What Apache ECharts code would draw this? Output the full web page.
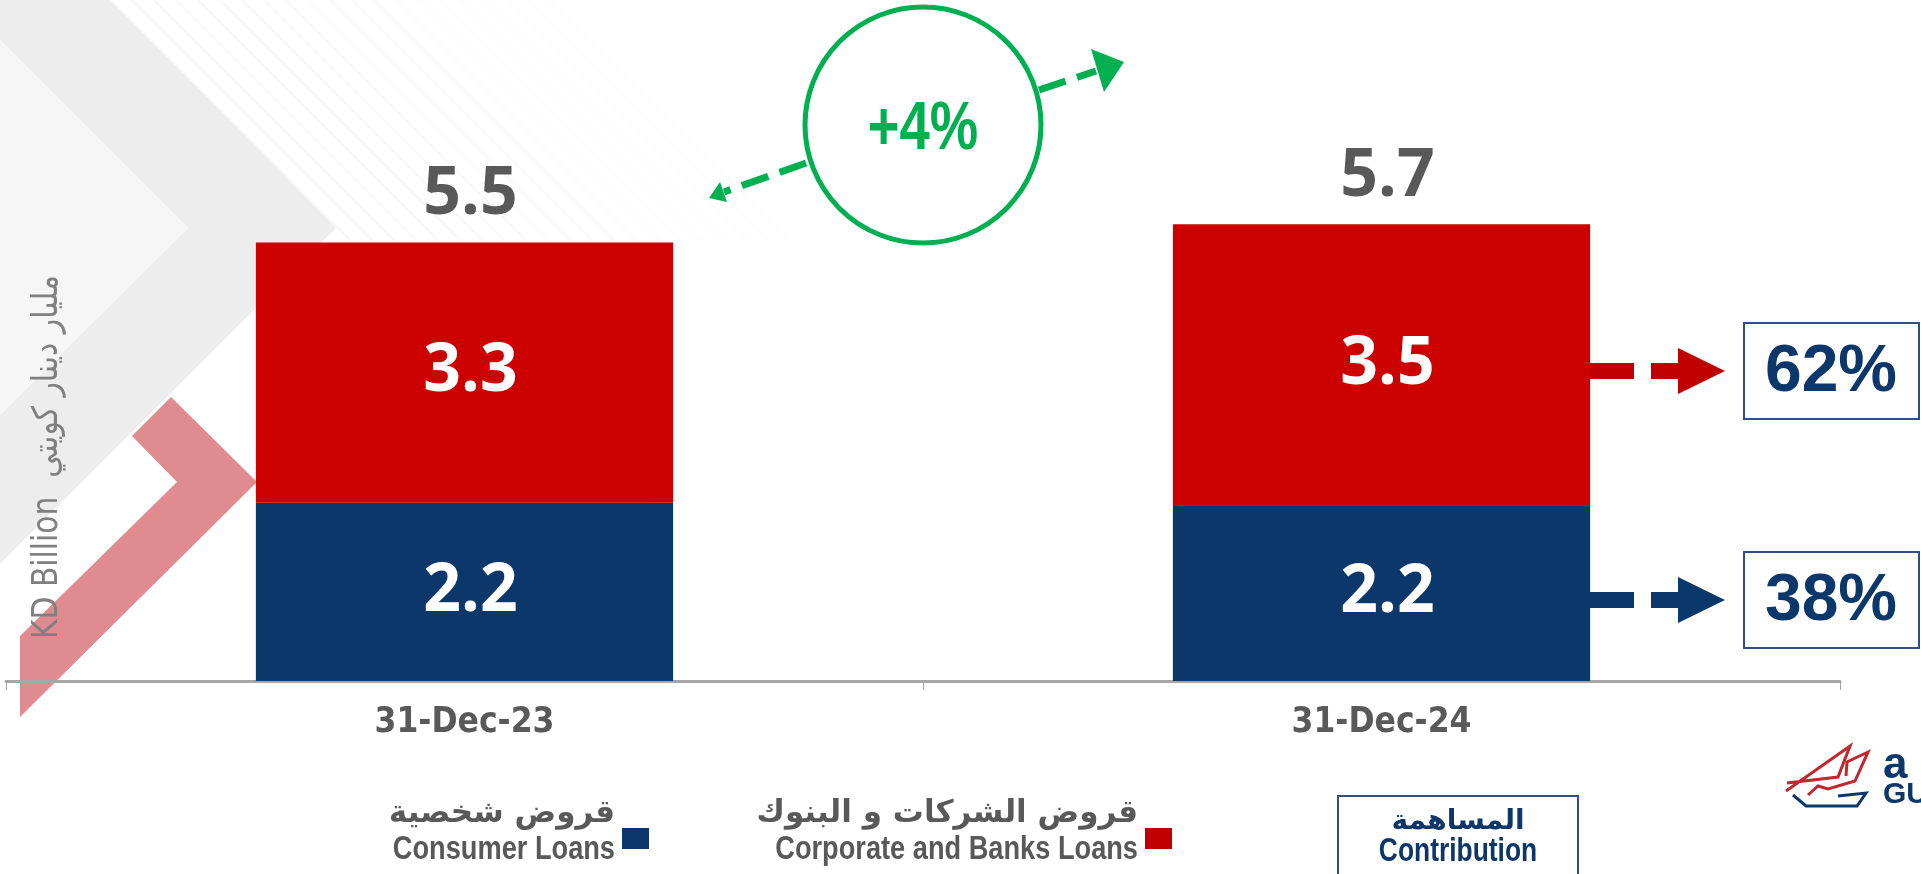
<!DOCTYPE html>
<html>
<head>
<meta charset="utf-8">
<title>Loans</title>
<script src="https://cdn.jsdelivr.net/npm/echarts@6/dist/echarts.min.js"></script>
<style>
    html, body { margin: 0; padding: 0; background: #fff; }
    #main { width: 1921px; height: 874px; }
</style>
</head>
<body>
<div id="main"></div>
<script>
var categories = ['31-Dec-23', '31-Dec-24'];
var consumerLoans = [2.24, 2.2];
var corporateLoans = [3.27, 3.54];
var seriesNames = ['قروض شخصية\nConsumer Loans', 'قروض الشركات و البنوك\nCorporate and Banks Loans'];

var navy = '#0c376a';
var red = '#cc0000';
var gray = '#595959';
var green = '#00b050';
var numFont = '"Open Sans", "Noto Sans", sans-serif';
var sansFont = '"Liberation Sans", Arial, sans-serif';
var condFont = '"DejaVu Sans Condensed", "Liberation Sans", sans-serif';

(function () {
    "use strict";

    var totals = consumerLoans.map(function (v, i) { return v + corporateLoans[i]; });
    var last = totals.length - 1;
    var growth = Math.round((totals[last] / totals[0] - 1) * 100);
    var shareCorp = Math.round(corporateLoans[last] / totals[last] * 100);
    var shareCons = 100 - shareCorp;

    var myChart = echarts.init(document.getElementById('main'), null, { renderer: 'canvas' });

    // narrow text = liberation sans squeezed horizontally
    function narrowText(x, y, text, size, color, align) {
        return {
            type: 'text', x: x, y: y, scaleX: 0.8,
            style: {
                text: text, fill: color, font: 'bold ' + size + 'px ' + sansFont,
                align: align || 'center', verticalAlign: 'middle'
            }
        };
    }

    // background shapes (chevrons + faint stripes)
    var bg = [];
    for (var k = 0; k < 22; k++) {
        var x0 = 110 + k * 22;
        bg.push({
            type: 'line', z: -20, silent: true,
            shape: { x1: x0, y1: 0, x2: x0 + 240, y2: 240 },
            style: { stroke: 'rgba(0,0,0,' + (0.028 - k * 0.0011).toFixed(4) + ')', lineWidth: 3 }
        });
    }
    bg.push({
        type: 'polygon', z: -15, silent: true,
        shape: { points: [[0, 0], [110, 0], [336, 228], [0, 564], [0, 415], [188, 228], [0, 40]] },
        style: { fill: '#ededed' }
    });
    bg.push({
        type: 'polygon', z: -15, silent: true,
        shape: { points: [[0, 40], [188, 228], [0, 415]] },
        style: { fill: '#f6f6f6' }
    });
    bg.push({
        type: 'polygon', z: -10, silent: true,
        shape: { points: [[132, 436], [171, 397], [257, 482], [20, 717], [20, 636], [177, 482]] },
        style: { fill: '#e08b8f' }
    });

    // growth bubble
    var bubble = [
        {
            type: 'circle', shape: { cx: 923, cy: 125, r: 118 },
            style: { fill: 'rgba(255,255,255,0)', stroke: green, lineWidth: 5 }
        },
        narrowText(923, 130, (growth >= 0 ? '+' : '') + growth + '%', 68, green),
        {
            type: 'line', shape: { x1: 806, y1: 163, x2: 724, y2: 192 },
            style: { stroke: green, lineWidth: 7, lineDash: [28, 12] }
        },
        {
            type: 'polygon', shape: { points: [[709, 198], [720, 182], [727, 202]] },
            style: { fill: green }
        },
        {
            type: 'line', shape: { x1: 1039, y1: 90, x2: 1096, y2: 71 },
            style: { stroke: green, lineWidth: 7, lineDash: [28, 12] }
        },
        {
            type: 'polygon', shape: { points: [[1091, 49], [1124, 62], [1104, 92]] },
            style: { fill: green }
        }
    ];

    // contribution arrows + boxes
    function shareItem(y, color, text) {
        return [
            {
                type: 'line', shape: { x1: 1590, y1: y, x2: 1680, y2: y },
                style: { stroke: color, lineWidth: 16, lineDash: [44, 17] }
            },
            {
                type: 'polygon', shape: { points: [[1678, y - 23], [1725, y], [1678, y + 23]] },
                style: { fill: color }
            },
            {
                type: 'rect', shape: { x: 1744, y: y - 48, width: 175, height: 96 },
                style: { fill: '#fff', stroke: '#2f5080', lineWidth: 2 }
            },
            {
                type: 'text', x: 1831, y: y + 2,
                style: {
                    text: text, fill: navy, font: 'bold 66px ' + sansFont,
                    align: 'center', verticalAlign: 'middle'
                }
            }
        ];
    }

    // legend (custom, two lines: arabic over english)
    function legendItem(xRight, color, name) {
        var parts = name.split('\n');
        return [
            {
                type: 'rect', shape: { x: xRight + 7, y: 828, width: 27, height: 21 },
                style: { fill: color }
            },
            {
                type: 'text', x: xRight, y: 814,
                style: {
                    text: parts[0], fill: gray, font: 'bold 31px "DejaVu Sans", sans-serif',
                    align: 'right', verticalAlign: 'middle'
                }
            },
            narrowText(xRight, 850, parts[1], 34, gray, 'right')
        ];
    }

    var contribution = [
        {
            type: 'rect', shape: { x: 1338, y: 796, width: 240, height: 90 },
            style: { fill: '#fff', stroke: '#2f5080', lineWidth: 2 }
        },
        {
            type: 'text', x: 1458, y: 822,
            style: {
                text: 'المساهمة', fill: navy, font: 'bold 28px "DejaVu Sans", sans-serif',
                align: 'center', verticalAlign: 'middle'
            }
        },
        narrowText(1458, 852, 'Contribution', 33, navy)
    ];

    // logo corner (cut by the page edge)
    var logo = [
        {
            type: 'polyline', shape: { points: [[1786, 791], [1850, 746], [1838, 777], [1787, 783]] },
            style: { stroke: '#c1272d', lineWidth: 3, fill: null }
        },
        {
            type: 'polyline', shape: { points: [[1808, 795], [1818, 786], [1828, 789], [1855, 781], [1868, 752], [1847, 762], [1846, 776]] },
            style: { stroke: '#c1272d', lineWidth: 3, fill: null }
        },
        {
            type: 'polyline', shape: { points: [[1793, 795], [1806, 806], [1857, 806], [1866, 793], [1838, 796]] },
            style: { stroke: navy, lineWidth: 3, fill: null }
        },
        {
            type: 'text', x: 1883, y: 766,
            style: { text: 'a', fill: navy, font: 'bold 44px ' + sansFont, align: 'left', verticalAlign: 'middle' }
        },
        {
            type: 'text', x: 1883, y: 795,
            style: { text: 'GULF', fill: navy, font: 'bold 30px ' + sansFont, align: 'left', verticalAlign: 'middle' }
        }
    ];

    var axisName = {
        type: 'text', x: 48, y: 457, rotation: Math.PI / 2, scaleX: 0.85,
        style: {
            text: 'KD Billion  مليار دينار كويتي', fill: '#808080',
            font: '35px "DejaVu Sans", sans-serif', align: 'center', verticalAlign: 'middle'
        }
    };

    var graphics = bg.concat(bubble)
        .concat(shareItem(371, '#c00000', shareCorp + '%'))
        .concat(shareItem(600, navy, shareCons + '%'))
        .concat(legendItem(615, navy, seriesNames[0]))
        .concat(legendItem(1138, '#c00000', seriesNames[1]))
        .concat(contribution)
        .concat(logo)
        .concat([axisName]);

    var valueLabel = {
        show: true, position: 'inside', color: '#fff', offset: [6, 0],
        fontFamily: numFont, fontWeight: 'bold', fontSize: 66,
        formatter: function (p) { return p.value.toFixed(1); }
    };

    var option = {
        animation: false,
        backgroundColor: '#fff',
        grid: { left: 6, right: 81, top: 124, bottom: 193 },
        xAxis: {
            type: 'category',
            data: categories,
            axisLine: { lineStyle: { color: '#a6a6a6', width: 3 } },
            axisTick: { show: true, length: 9, lineStyle: { color: '#a6a6a6', width: 1 } },
            axisLabel: {
                color: gray, fontFamily: condFont, fontWeight: 'bold', fontSize: 35, margin: 24
            }
        },
        yAxis: { type: 'value', min: 0, max: 7, show: false },
        series: [
            {
                name: seriesNames[0], type: 'bar', stack: 'loans', barWidth: '45.5%',
                data: consumerLoans, itemStyle: { color: navy }, label: valueLabel
            },
            {
                name: seriesNames[1], type: 'bar', stack: 'loans', barWidth: '45.5%',
                data: corporateLoans, itemStyle: { color: red }, label: valueLabel
            },
            {
                name: 'total', type: 'bar', barWidth: '45.5%', barGap: '-100%',
                data: totals, itemStyle: { color: 'rgba(0,0,0,0)' }, z: 1, silent: true,
                label: {
                    show: true, position: 'top', distance: 14, color: gray, offset: [6, 0],
                    fontFamily: numFont, fontWeight: 'bold', fontSize: 66,
                    formatter: function (p) { return p.value.toFixed(1); }
                }
            }
        ],
        graphic: graphics
    };
    myChart.setOption(option);
})();
</script>
</body>
</html>
